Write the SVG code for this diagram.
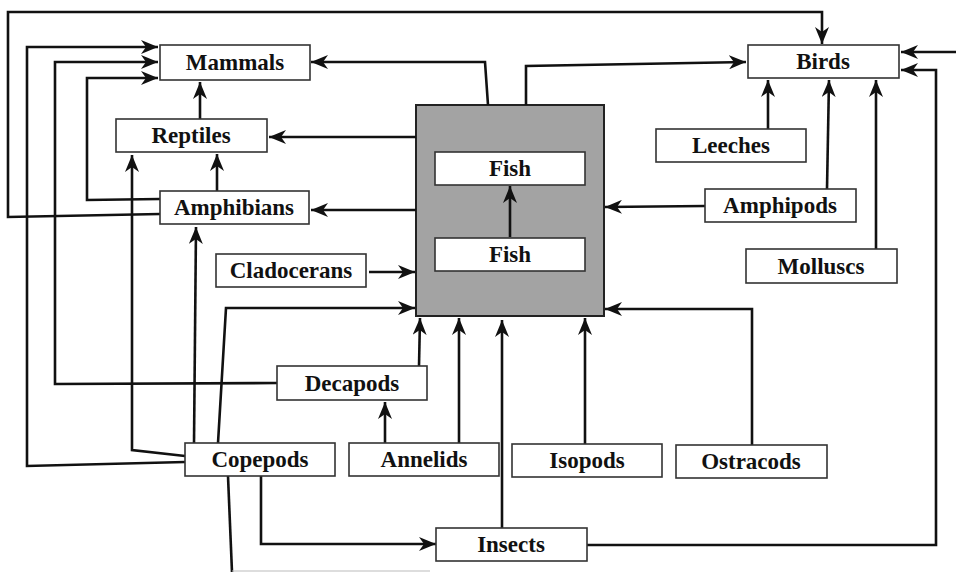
<svg xmlns="http://www.w3.org/2000/svg" width="956" height="572" viewBox="0 0 956 572">
<style>
.box{fill:#fff;stroke:#333;stroke-width:1.6}
.grey{fill:#a3a3a3;stroke:#222;stroke-width:2}
.lbl{font-family:"Liberation Serif","Times New Roman",serif;font-weight:bold;font-size:23px;fill:#111;text-anchor:middle}
.c{fill:none;stroke:#111;stroke-width:2.6;stroke-linejoin:miter;marker-end:url(#ah)}
.n{fill:none;stroke:#111;stroke-width:2.6}
</style>
<defs>
<marker id="ah" markerUnits="userSpaceOnUse" markerWidth="18" markerHeight="14" refX="17" refY="7" orient="auto">
<path d="M0,0 L17,7 L0,14 L5,7 Z" fill="#111"/>
</marker>
</defs>
<rect width="956" height="572" fill="#fff"/>
<g id="fishbox"><rect class="grey" x="416" y="105" width="188" height="211"/></g>
<g id="connectors">
<path class="c" d="M160,214 L8,217 L8,12 L822,12 L822,44"/>
<path class="c" d="M185,462 L27,466 L27,47 L158,47"/>
<path class="c" d="M277,383 L55,384 L55,62 L158,62"/>
<path class="c" d="M160,199 L87,200 L87,78 L158,78"/>
<path class="c" d="M185,456 L132,450 L132,155"/>
<path class="c" d="M194,443 L196,227"/>
<path class="c" d="M218,443 L226,308 L415,308"/>
<path class="c" d="M369,272 L415,272"/>
<path class="c" d="M419,366 L420,318"/>
<path class="c" d="M385,443 L385,402"/>
<path class="c" d="M459,443 L459,318"/>
<path class="c" d="M502,528 L502,320"/>
<path class="c" d="M585,444 L585,318"/>
<path class="c" d="M752,445 L752,309 L605,309"/>
<path class="c" d="M705,206 L605,207"/>
<path class="c" d="M416,210 L311,210"/>
<path class="c" d="M416,137 L269,137"/>
<path class="c" d="M488,105 L485,62 L311,62"/>
<path class="c" d="M526,105 L526,66 L746,62"/>
<path class="c" d="M510,237 L510,186"/>
<path class="c" d="M200,119 L200,82"/>
<path class="c" d="M217,191 L217,154"/>
<path class="c" d="M768,129 L768,80"/>
<path class="c" d="M827,189 L829,80"/>
<path class="c" d="M876,249 L876,80"/>
<path class="c" d="M958,52 L901,52"/>
<path class="c" d="M587,545 L936,545 L936,70 L901,70"/>
<path class="c" d="M261,476 L261,544 L436,544"/>
<path class="n" d="M228,476 L232,572"/>
<path d="M232,571 L430,571" fill="none" stroke="#bbb" stroke-width="1"/>
</g>
<g id="mammals"><rect class="box" x="160" y="45" width="150" height="35"/><text class="lbl" x="235" y="70">Mammals</text></g>
<g id="reptiles"><rect class="box" x="116" y="119" width="151" height="33"/><text class="lbl" x="191" y="143">Reptiles</text></g>
<g id="amphibians"><rect class="box" x="160" y="191" width="149" height="33"/><text class="lbl" x="234" y="215">Amphibians</text></g>
<g id="birds"><rect class="box" x="748" y="45" width="151" height="33"/><text class="lbl" x="823" y="69">Birds</text></g>
<g id="leeches"><rect class="box" x="656" y="129" width="150" height="33"/><text class="lbl" x="731" y="153">Leeches</text></g>
<g id="amphipods"><rect class="box" x="705" y="189" width="151" height="33"/><text class="lbl" x="780" y="213">Amphipods</text></g>
<g id="molluscs"><rect class="box" x="746" y="249" width="151" height="34"/><text class="lbl" x="821" y="274">Molluscs</text></g>
<g id="fish-top"><rect class="box" x="435" y="152" width="150" height="33"/><text class="lbl" x="510" y="176">Fish</text></g>
<g id="fish-bottom"><rect class="box" x="435" y="238" width="150" height="33"/><text class="lbl" x="510" y="262">Fish</text></g>
<g id="cladocerans"><rect class="box" x="216" y="254" width="150" height="33"/><text class="lbl" x="291" y="278">Cladocerans</text></g>
<g id="decapods"><rect class="box" x="277" y="366" width="150" height="34"/><text class="lbl" x="352" y="391">Decapods</text></g>
<g id="copepods"><rect class="box" x="185" y="443" width="150" height="33"/><text class="lbl" x="260" y="467">Copepods</text></g>
<g id="annelids"><rect class="box" x="349" y="443" width="150" height="33"/><text class="lbl" x="424" y="467">Annelids</text></g>
<g id="isopods"><rect class="box" x="512" y="444" width="150" height="33"/><text class="lbl" x="587" y="468">Isopods</text></g>
<g id="ostracods"><rect class="box" x="676" y="445" width="151" height="33"/><text class="lbl" x="751" y="469">Ostracods</text></g>
<g id="insects"><rect class="box" x="436" y="528" width="151" height="33"/><text class="lbl" x="511" y="552">Insects</text></g>
</svg>
